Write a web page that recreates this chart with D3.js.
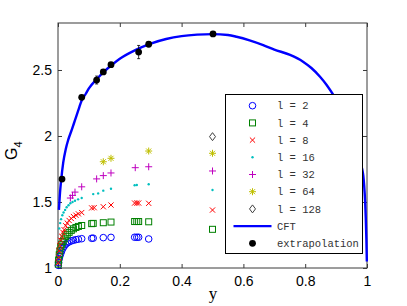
<!DOCTYPE html>
<html>
<head>
<meta charset="utf-8">
<script src="https://cdn.jsdelivr.net/npm/d3@7"></script>
<style>
  body { margin: 0; background: #fff; }
  text { font-family: "Liberation Sans", Arial, sans-serif; }
</style>
</head>
<body>
<div id="chart"></div>
<script>
"use strict";

// tick values / labels
const xTicks = [0, 0.2, 0.4, 0.6, 0.8, 1];
const xTickLabels = ["0", "0.2", "0.4", "0.6", "0.8", "1"];
const yTicks = [1, 1.5, 2, 2.5];
const yTickLabels = ["1", "1.5", "2", "2.5"];

// CFT curve: [y, G4]
const cft = [
  [0.003, 1.44], [0.0065, 1.57], [0.01, 1.66], [0.017, 1.80], [0.025, 1.90],
  [0.033, 1.97], [0.045, 2.05], [0.055, 2.12], [0.065, 2.19], [0.077, 2.27],
  [0.09, 2.32], [0.10, 2.36], [0.125, 2.43], [0.15, 2.49], [0.175, 2.54],
  [0.2, 2.585], [0.25, 2.65], [0.3, 2.70], [0.35, 2.735], [0.4, 2.757],
  [0.45, 2.768], [0.5, 2.772], [0.55, 2.765], [0.578, 2.752], [0.62, 2.725],
  [0.664, 2.689], [0.70, 2.655], [0.751, 2.614], [0.793, 2.563], [0.82, 2.515],
  [0.848, 2.449], [0.87, 2.385], [0.891, 2.311], [0.91, 2.23], [0.93, 2.13],
  [0.95, 2.01], [0.965, 1.91], [0.978, 1.81], [0.985, 1.742], [0.988, 1.70],
  [0.991, 1.62], [0.994, 1.50], [0.996, 1.38], [0.998, 1.22], [0.9995, 1.05]
];

// extrapolated points: [y, G4, error]
const extrap = [
  [0.013, 1.674, 0], [0.0767, 2.293, 0.01], [0.125, 2.424, 0.03], [0.1466, 2.485, 0.01],
  [0.1715, 2.540, 0.01], [0.261, 2.636, 0.05], [0.2935, 2.695, 0.01], [0.5016, 2.773, 0]
];

// finite size data: [y, G4]
const l2 = [
  [0.001, 1.02], [0.002, 1.04], [0.004, 1.07], [0.006, 1.09], [0.009, 1.11], [0.012, 1.13],
  [0.016, 1.15], [0.02, 1.165], [0.025, 1.18], [0.03, 1.19], [0.036, 1.198], [0.043, 1.205],
  [0.05, 1.21], [0.058, 1.215], [0.066, 1.218], [0.0767, 1.222], [0.109, 1.225], [0.114, 1.226],
  [0.1466, 1.23], [0.1715, 1.232], [0.248, 1.233], [0.255, 1.233], [0.261, 1.233], [0.2935, 1.22]
];
const l4 = [
  [0.001, 1.03], [0.002, 1.06], [0.004, 1.10], [0.006, 1.13], [0.009, 1.16], [0.012, 1.18],
  [0.016, 1.20], [0.02, 1.22], [0.025, 1.24], [0.03, 1.255], [0.036, 1.27], [0.043, 1.285],
  [0.05, 1.297], [0.058, 1.307], [0.066, 1.315], [0.0767, 1.322], [0.109, 1.336], [0.114, 1.338],
  [0.1466, 1.343], [0.1715, 1.348], [0.248, 1.352], [0.255, 1.352], [0.261, 1.352], [0.2935, 1.35],
  [0.5, 1.293]
];
const l8 = [
  [0.001, 1.04], [0.002, 1.08], [0.004, 1.13], [0.006, 1.17], [0.009, 1.21], [0.012, 1.24],
  [0.016, 1.27], [0.02, 1.29], [0.025, 1.32], [0.03, 1.34], [0.036, 1.36], [0.043, 1.375],
  [0.05, 1.39], [0.058, 1.40], [0.066, 1.41], [0.0767, 1.42], [0.109, 1.455], [0.117, 1.457],
  [0.1466, 1.464], [0.1715, 1.477], [0.248, 1.492], [0.255, 1.492], [0.261, 1.492], [0.2935, 1.49],
  [0.5, 1.439]
];
const l16 = [
  [0.004, 1.30], [0.007, 1.34], [0.01, 1.37], [0.014, 1.40], [0.018, 1.42], [0.023, 1.44],
  [0.028, 1.46], [0.034, 1.475], [0.04, 1.49], [0.047, 1.50], [0.055, 1.51], [0.065, 1.52],
  [0.0767, 1.53], [0.114, 1.56], [0.13, 1.565], [0.1466, 1.586], [0.1715, 1.60], [0.248, 1.627],
  [0.255, 1.629], [0.2935, 1.634], [0.5, 1.591]
];
const l32 = [
  [0.04, 1.53], [0.047, 1.55], [0.055, 1.575], [0.0767, 1.615], [0.125, 1.675], [0.1466, 1.70],
  [0.1715, 1.72], [0.25, 1.76], [0.2935, 1.767], [0.5, 1.735]
];
const l64 = [[0.1466, 1.805], [0.1715, 1.831], [0.2935, 1.886], [0.5, 1.869]];
const l128 = [[0.5, 1.995]];

const seriesData = [l2, l4, l8, l16, l32, l64, l128];
const seriesLabels = ["l = 2", "l = 4", "l = 8", "l = 16", "l = 32", "l = 64", "l = 128"];
const seriesMarkers = ["circle", "square", "x", "dot", "plus", "star", "diamond"];
const seriesColors = ["#0000ff", "#008000", "#ff0000", "#00bfbf", "#bf00bf", "#bfbf00", "#404040"];

const msm = { width: 407, height: 306, left: 58, right: 367, top: 23, bottom: 268 };

const svg = d3.select("#chart").append("svg")
  .attr("width", msm.width)
  .attr("height", msm.height);

const xScale = d3.scaleLinear().domain([0, 1]).range([msm.left, msm.right]);
const yScale = d3.scaleLinear().domain([1, 2.856]).range([msm.bottom, msm.top]);

// axes with inward ticks on all four sides
const axisColor = "#3a3a3a";
function styleAxis(g) {
  g.select(".domain").remove();
  g.selectAll("line").attr("stroke", axisColor);
  g.selectAll("text").attr("fill", "#000").style("font-size", "14px");
}
svg.append("g")
  .attr("transform", "translate(0," + msm.bottom + ")")
  .call(d3.axisBottom(xScale).tickValues(xTicks)
    .tickFormat((d, i) => xTickLabels[i]).tickSizeInner(-4).tickSizeOuter(0).tickPadding(8))
  .call(styleAxis);
svg.append("g")
  .attr("transform", "translate(0," + msm.top + ")")
  .call(d3.axisTop(xScale).tickValues(xTicks).tickFormat("").tickSizeInner(-4).tickSizeOuter(0))
  .call(styleAxis);
svg.append("g")
  .attr("transform", "translate(" + msm.left + ",0)")
  .call(d3.axisLeft(yScale).tickValues(yTicks)
    .tickFormat((d, i) => yTickLabels[i]).tickSizeInner(-4).tickSizeOuter(0).tickPadding(6))
  .call(styleAxis);
svg.append("g")
  .attr("transform", "translate(" + msm.right + ",0)")
  .call(d3.axisRight(yScale).tickValues(yTicks).tickFormat("").tickSizeInner(-4).tickSizeOuter(0))
  .call(styleAxis);

svg.append("rect")
  .attr("x", msm.left).attr("y", msm.top)
  .attr("width", msm.right - msm.left).attr("height", msm.bottom - msm.top)
  .attr("fill", "none").attr("stroke", axisColor).attr("stroke-width", 1);

// axis labels
svg.append("text")
  .attr("x", 213).attr("y", 299)
  .attr("text-anchor", "middle")
  .style("font-family", "'Liberation Serif', serif")
  .style("font-size", "17px")
  .text("y");

const ylab = svg.append("text")
  .attr("transform", "translate(17,160)rotate(-90)")
  .style("font-size", "16px");
ylab.append("tspan").text("G");
ylab.append("tspan").attr("dy", 5).style("font-size", "11px").text("4");

// marker drawing
function drawMarker(g, type, color, cx, cy) {
  if (type === "circle") {
    g.append("circle").attr("cx", cx).attr("cy", cy).attr("r", 3.3)
      .attr("fill", "none").attr("stroke", color).attr("stroke-width", 1);
  } else if (type === "square") {
    g.append("rect").attr("x", cx - 3).attr("y", cy - 3).attr("width", 6).attr("height", 6)
      .attr("fill", "none").attr("stroke", color).attr("stroke-width", 1);
  } else if (type === "x") {
    g.append("path").attr("d", `M${cx - 2.6},${cy - 2.6}L${cx + 2.6},${cy + 2.6}M${cx - 2.6},${cy + 2.6}L${cx + 2.6},${cy - 2.6}`)
      .attr("stroke", color).attr("stroke-width", 1);
  } else if (type === "dot") {
    g.append("circle").attr("cx", cx).attr("cy", cy).attr("r", 1.2).attr("fill", color);
  } else if (type === "plus") {
    g.append("path").attr("d", `M${cx - 3.5},${cy}L${cx + 3.5},${cy}M${cx},${cy - 3.5}L${cx},${cy + 3.5}`)
      .attr("stroke", color).attr("stroke-width", 1);
  } else if (type === "star") {
    g.append("path").attr("d", `M${cx - 3.5},${cy}L${cx + 3.5},${cy}M${cx},${cy - 3.5}L${cx},${cy + 3.5}` +
      `M${cx - 2.5},${cy - 2.5}L${cx + 2.5},${cy + 2.5}M${cx - 2.5},${cy + 2.5}L${cx + 2.5},${cy - 2.5}`)
      .attr("stroke", color).attr("stroke-width", 1);
  } else if (type === "diamond") {
    g.append("path").attr("d", `M${cx},${cy - 4}L${cx + 3},${cy}L${cx},${cy + 4}L${cx - 3},${cy}Z`)
      .attr("fill", "none").attr("stroke", color).attr("stroke-width", 1);
  } else if (type === "filled") {
    g.append("circle").attr("cx", cx).attr("cy", cy).attr("r", 3.4).attr("fill", "#000");
  }
}

// finite size series
seriesData.forEach((data, i) => {
  const g = svg.append("g").attr("class", "series");
  data.forEach((d) => drawMarker(g, seriesMarkers[i], seriesColors[i], xScale(d[0]), yScale(d[1])));
});

// CFT curve
svg.append("path")
  .datum(cft)
  .attr("fill", "none")
  .attr("stroke", "#0000ff")
  .attr("stroke-width", 2.4)
  .attr("d", d3.line()
    .x((d) => xScale(d[0]))
    .y((d) => yScale(d[1]))
    .curve(d3.curveMonotoneX));

// extrapolation with error bars
const eg = svg.append("g");
extrap.forEach((d) => {
  const cx = xScale(d[0]);
  if (d[2] > 0) {
    const y0 = yScale(d[1] - d[2]), y1 = yScale(d[1] + d[2]);
    eg.append("path").attr("d", `M${cx},${y0}L${cx},${y1}M${cx - 1.5},${y0}L${cx + 1.5},${y0}M${cx - 1.5},${y1}L${cx + 1.5},${y1}`)
      .attr("stroke", "#000").attr("stroke-width", 0.8);
  }
  drawMarker(eg, "filled", "#000", cx, yScale(d[1]));
});

// legend
const leg = { x: 225.5, y: 94.5, w: 137, h: 159, rowY: 105.7, rowH: 17.2, markX: 252.5, textX: 277 };
const lg = svg.append("g");
lg.append("rect")
  .attr("x", leg.x).attr("y", leg.y).attr("width", leg.w).attr("height", leg.h)
  .attr("fill", "#fff").attr("stroke", "#000").attr("stroke-width", 1);

const legendLabels = seriesLabels.concat(["CFT", "extrapolation"]);
legendLabels.forEach((label, i) => {
  const ry = leg.rowY + i * leg.rowH;
  if (i < seriesLabels.length) {
    drawMarker(lg, seriesMarkers[i], seriesColors[i], leg.markX, ry);
  } else if (label === "CFT") {
    lg.append("line").attr("x1", 233.5).attr("x2", 271.5).attr("y1", ry).attr("y2", ry)
      .attr("stroke", "#0000ff").attr("stroke-width", 2.4);
  } else {
    drawMarker(lg, "filled", "#000", leg.markX, ry);
  }
  lg.append("text")
    .attr("x", leg.textX).attr("y", ry).attr("dy", "0.35em")
    .style("font-family", "'Liberation Mono', 'Courier New', monospace")
    .style("font-size", "10.5px")
    .attr("fill", "#333")
    .text(label);
});
</script>
</body>
</html>
